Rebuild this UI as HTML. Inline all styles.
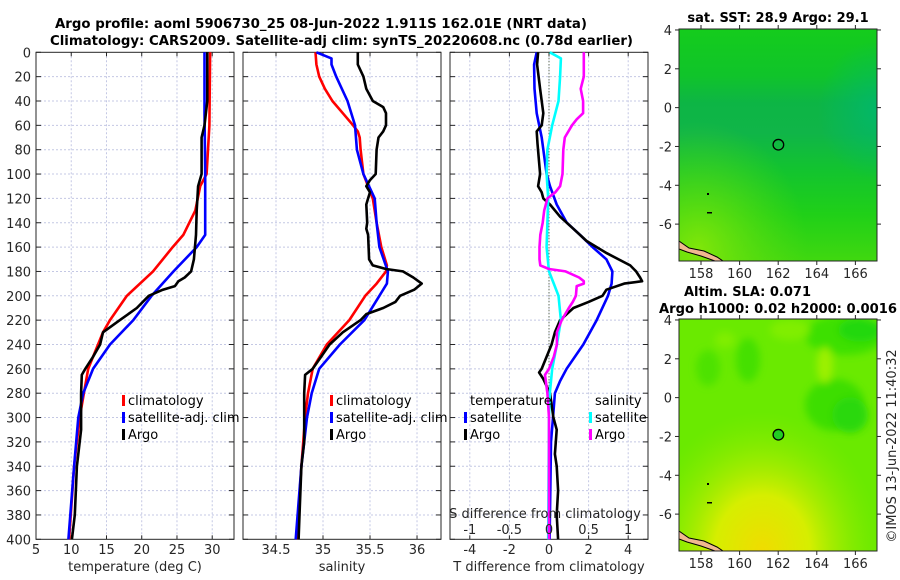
<!DOCTYPE html>
<html><head><meta charset="utf-8"><style>
html,body{margin:0;padding:0;background:#fff;}
svg{display:block;font-family:"DejaVu Sans","Liberation Sans",sans-serif;}
</style></head><body>
<svg id="fig" width="900" height="580" viewBox="0 0 900 580" xmlns="http://www.w3.org/2000/svg">
<defs>
<linearGradient id="sstBand" x1="0" y1="0" x2="0" y2="1">
<stop offset="0" stop-color="#14cc1c"/>
<stop offset="0.2" stop-color="#10c42a"/>
<stop offset="0.32" stop-color="#0db545"/>
<stop offset="0.45" stop-color="#10b548"/>
<stop offset="0.6" stop-color="#12c330"/>
<stop offset="0.8" stop-color="#20d018"/>
<stop offset="1" stop-color="#40d810"/>
</linearGradient>
<radialGradient id="sstYellow" cx="0.1" cy="0.95" r="0.55">
<stop offset="0" stop-color="#88e808" stop-opacity="0.9"/>
<stop offset="1" stop-color="#60dd10" stop-opacity="0"/>
</radialGradient>
<radialGradient id="sstRight" cx="1" cy="0.35" r="0.3">
<stop offset="0" stop-color="#00b870" stop-opacity="0.8"/>
<stop offset="1" stop-color="#00b870" stop-opacity="0"/>
</radialGradient>
<radialGradient id="slaYellow" cx="0.42" cy="1" r="0.6">
<stop offset="0" stop-color="#f0dc00"/>
<stop offset="0.4" stop-color="#d6ee00"/>
<stop offset="1" stop-color="#8cec00" stop-opacity="0"/>
</radialGradient>
<filter id="soft" x="-20%" y="-20%" width="140%" height="140%"><feGaussianBlur stdDeviation="4"/></filter>
</defs>
<g id="titles">
<text x="321" y="28" text-anchor="middle" font-size="13" font-weight="bold" fill="#000" textLength="532" lengthAdjust="spacingAndGlyphs">Argo profile: aoml 5906730_25 08-Jun-2022 1.911S 162.01E (NRT data)</text>
<text x="341.5" y="45" text-anchor="middle" font-size="13" font-weight="bold" fill="#000" textLength="583" lengthAdjust="spacingAndGlyphs">Climatology: CARS2009. Satellite-adj clim: synTS_20220608.nc (0.78d earlier)</text>
</g>
<g id="panels"></g>
<g id="maps"></g>
</svg>
<script>
// ---------------- DATA ----------------
const depthTicks = [0,20,40,60,80,100,120,140,160,180,200,220,240,260,280,300,320,340,360,380,400];
const tempTicks = [5,10,15,20,25,30];
const salTicks = [34.5,35,35.5,36];
const diffTTicks = [-4,-2,0,2,4];
const diffSTicks = [-1,-0.5,0,0.5,1];
const diffSTickLabels = ["-1","-0.5","0","0.5","1"];

// Temperature
const tClimDepth = [0,60,80,100,110,130,150,160,180,200,220,230,260,280,300,340,400];
const tClimVal   = [29.7,29.6,29.4,29.2,28.3,27.6,25.9,24.4,21.6,17.9,15.5,14.5,12.4,11.8,11.2,10.4,9.7];
const tSatDepth  = [0,50,100,150,160,180,200,220,240,260,280,300,340,400];
const tSatVal    = [28.9,28.9,29.0,29.0,27.8,24.5,21.4,18.8,15.5,13.1,11.7,11.0,10.4,9.6];
const tArgoDepth = [0,40,60,70,100,110,130,150,170,180,185,188,192,195,200,210,220,230,240,250,260,265,280,310,320,340,380,400];
const tArgoVal   = [29.3,29.3,28.9,28.5,28.5,28.0,27.8,27.7,27.4,27.0,26.1,25.2,24.7,23.0,21.0,19.3,16.9,14.5,14.1,13.1,12.0,11.5,11.4,11.4,11.2,10.8,10.5,10.1];

// Salinity
const sClimDepth = [0,10,20,30,40,50,60,65,70,80,100,120,140,160,175,180,190,200,220,240,260,280,300,340,400];
const sClimVal   = [34.92,34.93,34.96,35.02,35.1,35.21,35.32,35.37,35.39,35.4,35.43,35.53,35.57,35.62,35.68,35.67,35.57,35.45,35.28,35.04,34.89,34.84,34.81,34.77,34.72];
const sSatDepth  = [0,5,10,20,40,60,80,100,120,140,160,180,190,200,220,240,260,280,300,340,400];
const sSatVal    = [34.93,35.09,35.09,35.14,35.26,35.34,35.36,35.43,35.55,35.57,35.6,35.69,35.68,35.6,35.44,35.18,34.96,34.88,34.83,34.77,34.71];
const sArgoDepth = [0,10,20,30,40,45,50,60,65,70,80,100,105,110,115,120,125,140,145,150,170,175,178,180,185,190,195,200,205,210,215,220,230,240,250,260,265,280,320,340,380,400];
const sArgoVal   = [35.37,35.37,35.43,35.46,35.53,35.64,35.67,35.67,35.64,35.59,35.57,35.56,35.5,35.46,35.5,35.48,35.46,35.47,35.46,35.48,35.49,35.53,35.67,35.85,35.96,36.05,35.97,35.82,35.77,35.64,35.46,35.4,35.21,35.07,34.98,34.89,34.81,34.8,34.8,34.77,34.75,34.74];

// Differences from climatology
const dTSatDepth  = [0,10,30,50,70,100,110,125,140,150,160,170,180,190,200,220,240,260,270,280,300,320,400];
const dTSatVal    = [-0.62,-0.75,-0.73,-0.62,-0.37,-0.12,0.05,0.39,0.9,1.57,2.2,2.9,3.2,3.16,2.98,2.41,1.73,0.89,0.56,0.3,0.2,0.1,0.03];
const dTArgoDepth = [0,10,30,50,60,65,75,100,110,115,120,125,135,145,155,165,175,180,185,188,190,195,200,205,210,215,220,230,240,250,260,263,268,280,300,310,330,340,360,380,400];
const dTArgoVal   = [-0.55,-0.6,-0.45,-0.29,-0.37,-0.62,-0.58,-0.45,-0.55,-0.37,-0.29,0.05,0.56,1.23,1.9,2.92,4.1,4.4,4.6,4.7,3.8,2.9,2.7,2.0,1.23,0.9,0.56,0.3,0.13,-0.12,-0.37,-0.5,-0.3,0.05,0.22,0.39,0.3,0.39,0.46,0.39,0.46];
const dSSatDepth  = [0,5,20,40,60,80,100,120,140,160,180,190,200,220,240,260,280,300,400];
const dSSatVal    = [0.01,0.15,0.14,0.12,0.04,-0.02,-0.03,-0.01,-0.02,-0.03,0,0.06,0.12,0.15,0.1,0.04,0.01,0,-0.01];
const dSArgoDepth = [0,10,20,30,40,50,55,60,70,80,100,110,115,120,130,140,150,160,170,175,178,180,185,188,190,192,200,205,210,220,230,240,250,260,265,280,300,400];
const dSArgoVal   = [0.44,0.44,0.44,0.40,0.43,0.43,0.35,0.29,0.2,0.18,0.17,0.14,0.08,-0.02,-0.06,-0.08,-0.11,-0.12,-0.12,-0.11,0,0.21,0.38,0.44,0.44,0.35,0.34,0.3,0.25,0.16,0.1,0.1,0.06,0,-0.05,-0.02,0,0];

// Map axes
const lonTicks = [158,160,162,164,166];
const latTicks = [4,2,0,-2,-4,-6];
const argoLon = 162.01;
const argoLat = -1.911;

// ---------------- LAYOUT ----------------
const NS = "http://www.w3.org/2000/svg";
const yTop = 52.3, yBot = 539.3;
function yD(d){ return yTop + d*(yBot-yTop)/400; }
const P1 = {x0:36, x1:234, vmin:5, vmax:33.09};
const P2 = {x0:243, x1:441, vmin:34.149, vmax:36.255};
const P3 = {x0:450, x1:648, vmin:-5, vmax:5};
function sx(p,v){ return p.x0 + (v-p.vmin)*(p.x1-p.x0)/(p.vmax-p.vmin); }
function xT(v){ return sx(P1,v); }
function xS(v){ return sx(P2,v); }
function xDT(v){ return sx(P3,v); }
function xDS(v){ return sx(P3,v*4); }

function el(tag, attrs, parent){
  const e = document.createElementNS(NS, tag);
  for (const k in attrs) e.setAttribute(k, attrs[k]);
  if (parent) parent.appendChild(e);
  return e;
}
const panels = document.getElementById('panels');

function drawPanel(p, name, xticks, fx, xlabels){
  const g = el('g', {}, panels);
  
  
  xticks.forEach(v=>{
    const x = fx(v);
    if (x > p.x0+1 && x < p.x1-1) {
      const l = el('line',{x1:x,x2:x,y1:yTop,y2:yBot,stroke:'#c4c8e4','stroke-width':1,'stroke-dasharray':'2,2'},g);
      
      
    }
    el('line',{x1:x,x2:x,y1:yBot,y2:yBot-4,stroke:'#262626','stroke-width':1},g);
    el('line',{x1:x,x2:x,y1:yTop,y2:yTop+4,stroke:'#262626','stroke-width':1},g);
  });
  depthTicks.forEach(d=>{
    const y = yD(d);
    if (d>0 && d<400){
      const l = el('line',{x1:p.x0,x2:p.x1,y1:y,y2:y,stroke:'#c4c8e4','stroke-width':1,'stroke-dasharray':'2,2'},g);
      
      
    }
    el('line',{x1:p.x0,x2:p.x0+5,y1:y,y2:y,stroke:'#262626','stroke-width':1},g);
    el('line',{x1:p.x1-5,x2:p.x1,y1:y,y2:y,stroke:'#262626','stroke-width':1},g);
  });
  const r = el('rect',{x:p.x0,y:yTop,width:p.x1-p.x0,height:yBot-yTop,fill:'none',stroke:'#262626','stroke-width':1},g);
  
  
  if (xlabels){
    xticks.forEach((v,i)=>{
      const t = el('text',{x:fx(v),y:554,'text-anchor':'middle','font-size':13,fill:'#262626'},g);
      t.textContent = xlabels[i];
      
      
    });
  }
  return g;
}
function drawLine(g, depths, vals, fx, color, name){
  const pts = depths.map((d,i)=> fx(vals[i]).toFixed(1)+','+yD(d).toFixed(1)).join(' ');
  const pl = el('polyline',{points:pts,fill:'none',stroke:color,'stroke-width':2.6,'stroke-linejoin':'round'},g);
  
  
}
function txt(g, x, y, s, size, anchor, name, extra){
  const t = el('text',Object.assign({x:x,y:y,'font-size':size,'text-anchor':anchor||'start',fill:'#262626'},extra||{}),g);
  t.textContent = s;
  
  
  return t;
}
function legendEntry(g, x, y, color, label, name){
  const m = el('rect',{x:x,y:y-10,width:3,height:11,fill:color},g);
  
  
  const t = txt(g, x+6, y, label, 13, 'start', name, {fill:'#000'});
  
}

// Panel 1: temperature
const g1 = drawPanel(P1, 'temperature-panel', tempTicks, xT, tempTicks.map(String));
depthTicks.forEach(d=>{ txt(g1, 31, yD(d)+5, String(d), 13, 'end', 'y-tick-label'); });
drawLine(g1, tClimDepth, tClimVal, xT, '#ff0000', 'temperature-climatology-line');
drawLine(g1, tSatDepth, tSatVal, xT, '#0000ff', 'temperature-satellite-line');
drawLine(g1, tArgoDepth, tArgoVal, xT, '#000000', 'temperature-argo-line');
txt(g1, 135, 571, 'temperature (deg C)', 13, 'middle', 'x-axis-title-temperature');
const lg1 = el('g',{},g1);


legendEntry(lg1, 122, 405, '#ff0000', 'climatology', 'legend-climatology');
legendEntry(lg1, 122, 422, '#0000ff', 'satellite-adj. clim', 'legend-satellite-adj-clim');
legendEntry(lg1, 122, 439, '#000000', 'Argo', 'legend-argo');

// Panel 2: salinity
const g2 = drawPanel(P2, 'salinity-panel', salTicks, xS, salTicks.map(String));
drawLine(g2, sClimDepth, sClimVal, xS, '#ff0000', 'salinity-climatology-line');
drawLine(g2, sSatDepth, sSatVal, xS, '#0000ff', 'salinity-satellite-line');
drawLine(g2, sArgoDepth, sArgoVal, xS, '#000000', 'salinity-argo-line');
txt(g2, 342, 571, 'salinity', 13, 'middle', 'x-axis-title-salinity');
const lg2 = el('g',{},g2);


legendEntry(lg2, 330, 405, '#ff0000', 'climatology', 'legend-climatology');
legendEntry(lg2, 330, 422, '#0000ff', 'satellite-adj. clim', 'legend-satellite-adj-clim');
legendEntry(lg2, 330, 439, '#000000', 'Argo', 'legend-argo');

// Panel 3: differences
const g3 = drawPanel(P3, 'difference-panel', diffTTicks, xDT, diffTTicks.map(String));
const zl = el('line',{x1:xDT(0),x2:xDT(0),y1:yTop,y2:yBot,stroke:'#3a4a2a','stroke-width':1,'stroke-dasharray':'1,2'},g3);


drawLine(g3, dTSatDepth, dTSatVal, xDT, '#0000ff', 'temperature-diff-satellite-line');
drawLine(g3, dTArgoDepth, dTArgoVal, xDT, '#000000', 'temperature-diff-argo-line');
drawLine(g3, dSSatDepth, dSSatVal, xDS, '#00ffff', 'salinity-diff-satellite-line');
drawLine(g3, dSArgoDepth, dSArgoVal, xDS, '#ff00ff', 'salinity-diff-argo-line');
txt(g3, 549, 571, 'T difference from climatology', 13, 'middle', 'x-axis-title-t-difference');
txt(g3, 545, 518, 'S difference from climatology', 13, 'middle', 'inner-axis-title-s-difference');
diffSTicks.forEach((v,i)=>{ txt(g3, xDS(v), 534, diffSTickLabels[i], 13, 'middle', 's-tick-label'); });
const lg3 = el('g',{},g3);


txt(lg3, 470, 405, 'temperature', 13, 'start', 'legend-heading-temperature', {fill:'#000'});
legendEntry(lg3, 464, 422, '#0000ff', 'satellite', 'legend-temperature-satellite');
legendEntry(lg3, 464, 439, '#000000', 'Argo', 'legend-temperature-argo');
txt(lg3, 595, 405, 'salinity', 13, 'start', 'legend-heading-salinity', {fill:'#000'});
legendEntry(lg3, 589, 422, '#00ffff', 'satellite', 'legend-salinity-satellite');
legendEntry(lg3, 589, 439, '#ff00ff', 'Argo', 'legend-salinity-argo');

// ---------------- MAPS ----------------
const maps = document.getElementById('maps');
const MX0 = 679, MX1 = 877, LON0 = 156.86, LON1 = 167.12;
function xLon(v){ return MX0 + (v-LON0)*(MX1-MX0)/(LON1-LON0); }
function drawMap(y0, name, fillFn){
  const y1 = y0 + 232;
  const latTop = 4.05, latBot = -7.9;
  const yLat = v => y0 + (latTop - v)*(y1-y0)/(latTop-latBot);
  const g = el('g',{},maps);
  
  
  const clip = el('clipPath',{id:name+'-clip'},g);
  el('rect',{x:MX0,y:y0,width:MX1-MX0,height:y1-y0},clip);
  const inner = el('g',{'clip-path':'url(#'+name+'-clip)'},g);
  fillFn(inner, y0);
  const c = el('path',{d:`M${MX0} ${y1-20} L${MX0+10} ${y1-13} L${MX0+25} ${y1-10} L${MX0+38} ${y1-4} L${MX0+44} ${y1} L${MX0+36} ${y1} L${MX0+22} ${y1-5} L${MX0+8} ${y1-9} L${MX0} ${y1-12} Z`,fill:'#f0b890',stroke:'#000','stroke-width':1},inner);
  
  
  el('rect',{x:MX0+28,y:y0+164,width:2,height:2,fill:'#000'},inner);
  el('rect',{x:MX0+28,y:y0+183,width:5,height:1.5,fill:'#000'},inner);
  el('rect',{x:MX0,y:y0,width:MX1-MX0,height:y1-y0,fill:'none',stroke:'#262626','stroke-width':1},g);
  latTicks.forEach(v=>{
    const y = yLat(v);
    el('line',{x1:MX0-4,x2:MX0,y1:y,y2:y,stroke:'#262626'},g);
    el('line',{x1:MX1,x2:MX1+4,y1:y,y2:y,stroke:'#262626'},g);
    txt(g, 672, y+5, String(v), 13, 'end', 'latitude-tick-label');
  });
  lonTicks.forEach(v=>{
    const x = xLon(v);
    el('line',{x1:x,x2:x,y1:y1,y2:y1+4,stroke:'#262626'},g);
    el('line',{x1:x,x2:x,y1:y0-4,y2:y0,stroke:'#262626'},g);
    txt(g, x, y1+17, String(v), 13, 'middle', 'longitude-tick-label');
  });
  const mk = el('circle',{cx:xLon(argoLon),cy:yLat(argoLat),r:5.3,fill:name==='sla-map'?'#22cc22':'none',stroke:'#000','stroke-width':1.3},g);
  
  
}
drawMap(29, 'sst-map', (g,y0)=>{
  el('rect',{x:MX0,y:y0,width:198,height:232,fill:'url(#sstBand)'},g);
  el('rect',{x:MX0,y:y0,width:198,height:232,fill:'url(#sstRight)'},g);
  el('rect',{x:MX0,y:y0,width:198,height:232,fill:'url(#sstYellow)'},g);
});
drawMap(319, 'sla-map', (g,y0)=>{
  el('rect',{x:MX0,y:y0,width:198,height:232,fill:'#6aea00'},g);
  el('rect',{x:MX0,y:y0,width:198,height:232,fill:'url(#slaYellow)'},g);
  const bg = el('g',{filter:'url(#soft)'},g);
  const blobs = [[845,335,40,20,'#3ee000'],[860,330,22,12,'#22d808'],[748,360,12,22,'#44e000'],[708,368,12,18,'#4ee200'],[835,405,30,26,'#3ede00'],[850,415,18,18,'#2ad808'],[790,330,20,10,'#80ee00'],[825,365,8,18,'#9cf000'],[725,340,10,8,'#80ee00']];
  blobs.forEach(b=>{ el('ellipse',{cx:b[0],cy:b[1],rx:b[2],ry:b[3],fill:b[4]},bg); });
});
const mt = el('g',{},maps);


txt(mt, 778, 22, 'sat. SST: 28.9 Argo: 29.1', 13, 'middle', 'sst-map-title', {'font-weight':'bold',fill:'#000'});
txt(mt, 684, 296, 'Altim. SLA: 0.071', 13, 'start', 'sla-map-title', {'font-weight':'bold',fill:'#000'});
txt(mt, 778, 313, 'Argo h1000: 0.02 h2000: 0.0016', 13, 'middle', 'argo-height-title', {'font-weight':'bold',fill:'#000',textLength:238,lengthAdjust:'spacingAndGlyphs'});
txt(mt, 0, 0, '©IMOS 13-Jun-2022 11:40:32', 13, 'middle', 'imos-credit', {transform:'translate(896,446) rotate(-90)',fill:'#262626'});
</script>
</body></html>
